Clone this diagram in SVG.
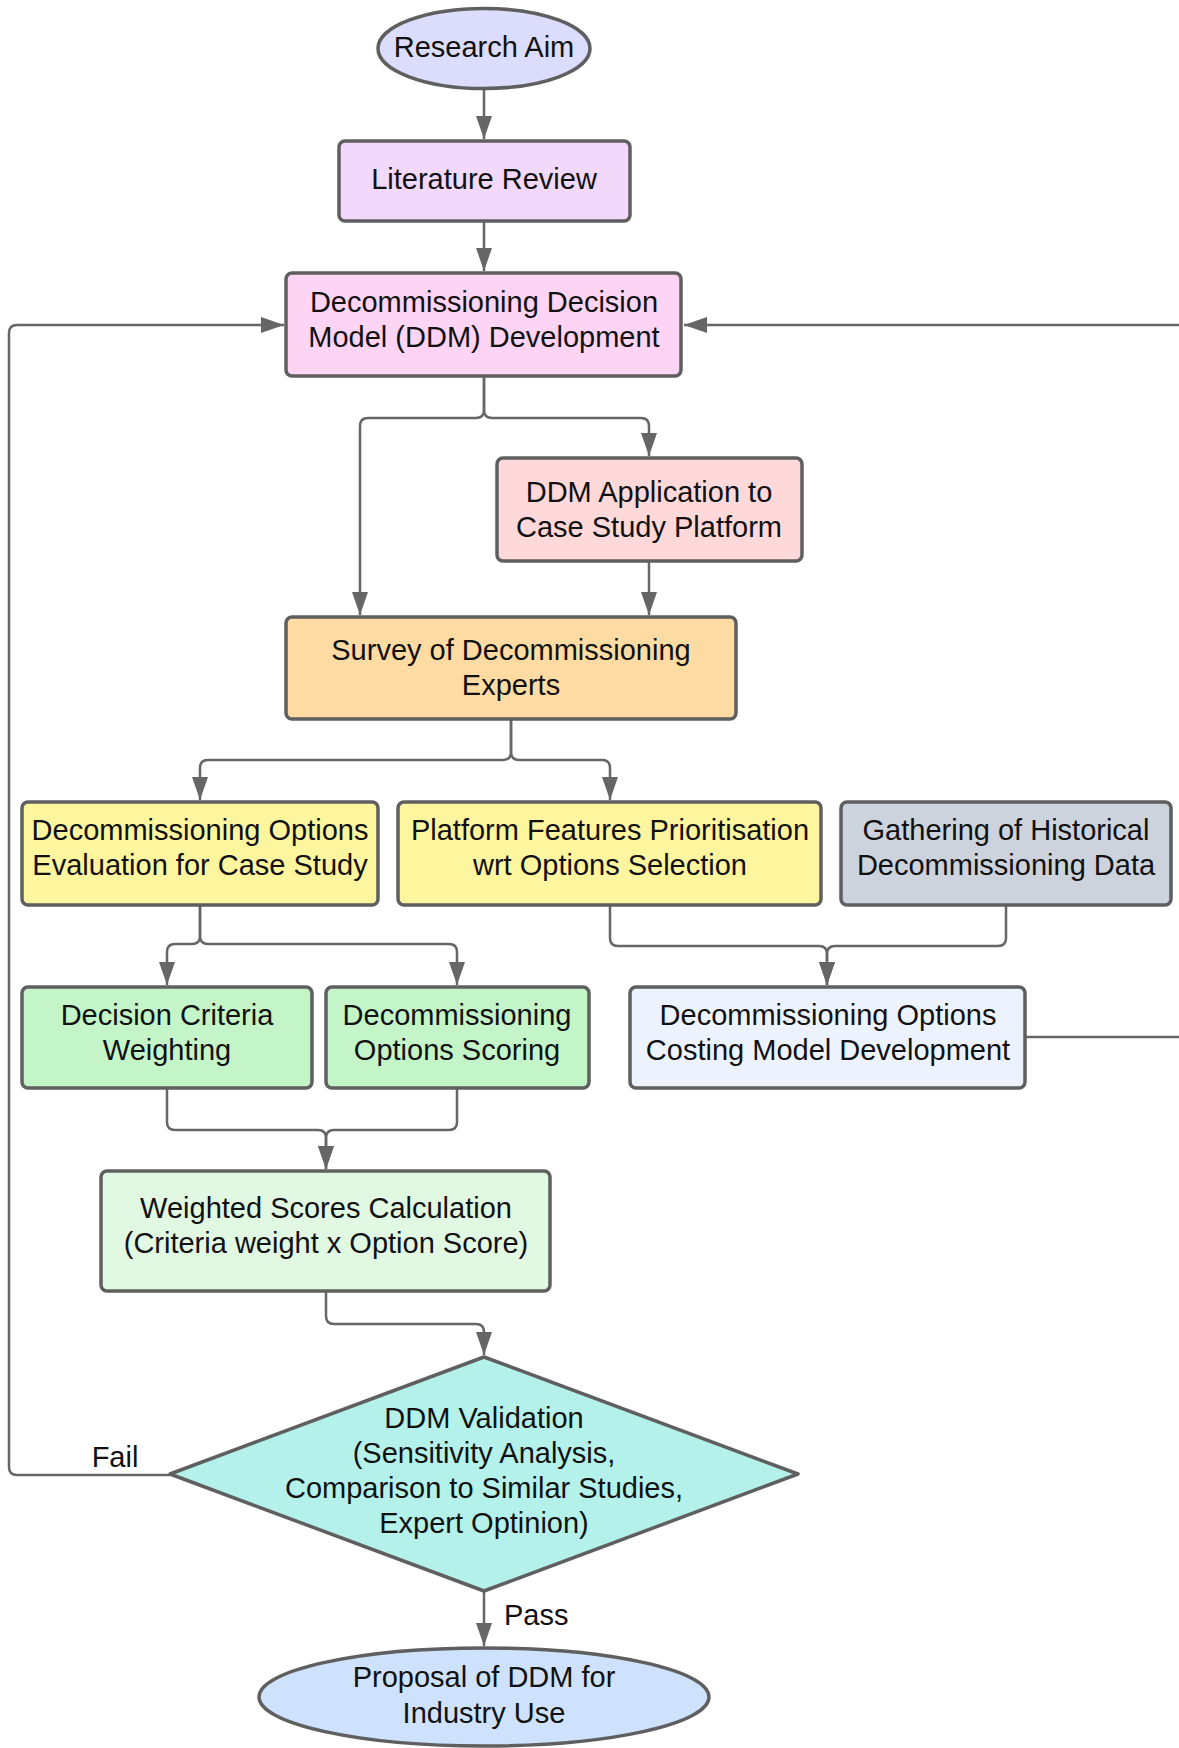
<svg xmlns="http://www.w3.org/2000/svg" width="1179" height="1748" viewBox="0 0 1179 1748">
  <style>
    .node { stroke: #5f5f5f; stroke-width: 3.5; }
    .lbl { font-family: "Liberation Sans", Arial, sans-serif; font-size: 29px; fill: #111; text-anchor: middle; }
    .edge { fill: none; stroke: #666; stroke-width: 2.5; }
    .tag { font-family: "Liberation Sans", Arial, sans-serif; font-size: 29px; fill: #111; }
  </style>
  <defs>
    <marker id="arrow" viewBox="0 0 23 16" refX="23" refY="8" markerWidth="23" markerHeight="16" markerUnits="userSpaceOnUse" orient="auto">
      <path d="M0,0 L23,8 L0,16 z" fill="#666"/>
    </marker>
  </defs>
  <rect width="1179" height="1748" fill="#ffffff"/>

  <g id="connectors">
    <path class="edge" d="M484,89 V139" marker-end="url(#arrow)"/>
    <path class="edge" d="M484,221 V271" marker-end="url(#arrow)"/>
    <path class="edge" d="M484,376 V410 Q484,418 476,418 H368 Q360,418 360,426 V615" marker-end="url(#arrow)"/>
    <path class="edge" d="M484,376 V410 Q484,418 492,418 H641 Q649,418 649,426 V456" marker-end="url(#arrow)"/>
    <path class="edge" d="M649,561 V615" marker-end="url(#arrow)"/>
    <path class="edge" d="M511,719 V752 Q511,760 503,760 H208 Q200,760 200,768 V800" marker-end="url(#arrow)"/>
    <path class="edge" d="M511,719 V752 Q511,760 519,760 H602 Q610,760 610,768 V800" marker-end="url(#arrow)"/>
    <path class="edge" d="M200,905 V936 Q200,944 192,944 H175 Q167,944 167,952 V985" marker-end="url(#arrow)"/>
    <path class="edge" d="M200,905 V936 Q200,944 208,944 H449 Q457,944 457,952 V985" marker-end="url(#arrow)"/>
    <path class="edge" d="M610,905 V938 Q610,946 618,946 H819 Q827,946 827,954 V985" marker-end="url(#arrow)"/>
    <path class="edge" d="M1006,905 V938 Q1006,946 998,946 H835 Q827,946 827,954 V985" marker-end="url(#arrow)"/>
    <path class="edge" d="M1025,1037 H1179"/>
    <path class="edge" d="M167,1088 V1122 Q167,1130 175,1130 H318 Q326,1130 326,1138 V1169" marker-end="url(#arrow)"/>
    <path class="edge" d="M457,1088 V1122 Q457,1130 449,1130 H334 Q326,1130 326,1138 V1169" marker-end="url(#arrow)"/>
    <path class="edge" d="M326,1291 V1316 Q326,1324 334,1324 H476 Q484,1324 484,1332 V1355" marker-end="url(#arrow)"/>
    <path class="edge" d="M484,1592 V1646" marker-end="url(#arrow)"/>
    <path class="edge" d="M170,1475 H17 Q9,1475 9,1467 V333 Q9,325 17,325 H284" marker-end="url(#arrow)"/>
    <path class="edge" d="M1179,325 H684" marker-end="url(#arrow)"/>
    <text class="tag" x="115" y="1467" text-anchor="middle">Fail</text>
    <text class="tag" x="504" y="1625">Pass</text>
  </g>

  <g id="research-aim">
    <ellipse class="node" cx="484" cy="48.5" rx="106" ry="40" fill="#dcdcfc"/>
    <text class="lbl" x="484" y="57">Research Aim</text>
  </g>

  <g id="literature-review">
    <rect class="node" x="339" y="141" width="291" height="80" rx="6" fill="#f2d8fb"/>
    <text class="lbl" x="484" y="189">Literature Review</text>
  </g>

  <g id="ddm-development">
    <rect class="node" x="286" y="273" width="395" height="103" rx="6" fill="#fed4f4"/>
    <text class="lbl" x="484" y="312">Decommissioning Decision</text>
    <text class="lbl" x="484" y="347">Model (DDM) Development</text>
  </g>

  <g id="ddm-application">
    <rect class="node" x="497" y="458" width="305" height="103" rx="6" fill="#ffd9d9"/>
    <text class="lbl" x="649" y="502">DDM Application to</text>
    <text class="lbl" x="649" y="537">Case Study Platform</text>
  </g>

  <g id="expert-survey">
    <rect class="node" x="286" y="617" width="450" height="102" rx="6" fill="#fedba3"/>
    <text class="lbl" x="511" y="660">Survey of Decommissioning</text>
    <text class="lbl" x="511" y="695">Experts</text>
  </g>

  <g id="options-evaluation">
    <rect class="node" x="22" y="802" width="356" height="103" rx="6" fill="#fef59f"/>
    <text class="lbl" x="200" y="840">Decommissioning Options</text>
    <text class="lbl" x="200" y="875">Evaluation for Case Study</text>
  </g>

  <g id="features-prioritisation">
    <rect class="node" x="398" y="802" width="423" height="103" rx="6" fill="#fef59f"/>
    <text class="lbl" x="610" y="840">Platform Features Prioritisation</text>
    <text class="lbl" x="610" y="875">wrt Options Selection</text>
  </g>

  <g id="historical-data">
    <rect class="node" x="841" y="802" width="330" height="103" rx="6" fill="#cdd3dc"/>
    <text class="lbl" x="1006" y="840">Gathering of Historical</text>
    <text class="lbl" x="1006" y="875">Decommissioning Data</text>
  </g>

  <g id="criteria-weighting">
    <rect class="node" x="22" y="987" width="290" height="101" rx="6" fill="#c3f5c8"/>
    <text class="lbl" x="167" y="1025">Decision Criteria</text>
    <text class="lbl" x="167" y="1060">Weighting</text>
  </g>

  <g id="options-scoring">
    <rect class="node" x="326" y="987" width="263" height="101" rx="6" fill="#c3f5c8"/>
    <text class="lbl" x="457" y="1025">Decommissioning</text>
    <text class="lbl" x="457" y="1060">Options Scoring</text>
  </g>

  <g id="costing-model">
    <rect class="node" x="630" y="987" width="395" height="101" rx="6" fill="#edf3fe"/>
    <text class="lbl" x="828" y="1025">Decommissioning Options</text>
    <text class="lbl" x="828" y="1060">Costing Model Development</text>
  </g>

  <g id="weighted-scores">
    <rect class="node" x="101" y="1171" width="449" height="120" rx="6" fill="#e1f8e3"/>
    <text class="lbl" x="326" y="1218">Weighted Scores Calculation</text>
    <text class="lbl" x="326" y="1253">(Criteria weight x Option Score)</text>
  </g>

  <g id="ddm-validation">
    <path class="node" d="M484,1357 L798,1474 L484,1591 L170,1474 Z" stroke-linejoin="round" fill="#b4f1ea"/>
    <text class="lbl" x="484" y="1428">DDM Validation</text>
    <text class="lbl" x="484" y="1463">(Sensitivity Analysis,</text>
    <text class="lbl" x="484" y="1498">Comparison to Similar Studies,</text>
    <text class="lbl" x="484" y="1533">Expert Optinion)</text>
  </g>

  <g id="industry-proposal">
    <ellipse class="node" cx="484" cy="1697" rx="225" ry="49" fill="#cfe2fd"/>
    <text class="lbl" x="484" y="1687">Proposal of DDM for</text>
    <text class="lbl" x="484" y="1723">Industry Use</text>
  </g>
</svg>
